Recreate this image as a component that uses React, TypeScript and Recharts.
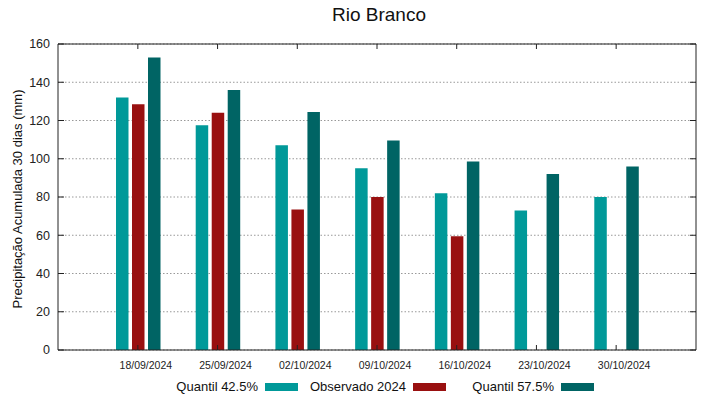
import React from 'react';
import { BarChart, Bar, XAxis, YAxis, CartesianGrid } from 'recharts';

// Precipitação acumulada 30 dias - Rio Branco
const dates = ['18/09/2024', '25/09/2024', '02/10/2024', '09/10/2024', '16/10/2024', '23/10/2024', '30/10/2024'];
const quantil425 = [132, 117.5, 107, 95, 82, 73, 80];
const observado2024 = [128.5, 124, 73.5, 80, 59.5, null, null];
const quantil575 = [153, 136, 124.5, 109.5, 98.5, 92, 96];
const yTicks = [0, 20, 40, 60, 80, 100, 120, 140, 160];

const SERIES = [
  { key: 'q425', name: 'Quantil 42.5%', color: '#009999' },
  { key: 'obs', name: 'Observado 2024', color: '#991010' },
  { key: 'q575', name: 'Quantil 57.5%', color: '#006464' },
];

const FONT = '"Liberation Sans", Arial, sans-serif';

const data = dates.map((date, i) => ({
  date,
  q425: quantil425[i],
  obs: observado2024[i],
  q575: quantil575[i],
}));

const DateTick = ({ x, y, payload }: any) => (
  <text x={x + 8} y={y} dy="0.71em" textAnchor="middle" fontSize={10.5} fill="#222" fontFamily={FONT}>
    {payload.value}
  </text>
);

const Empty = () => <g />;

export default function App() {
  return (
    <div style={{ position: 'absolute', left: 0, top: 0, width: 719, height: 399, background: '#fff', fontFamily: FONT }}>
      <div style={{ position: 'absolute', left: 0, width: 758, top: 4, textAlign: 'center', fontSize: 19, color: '#111' }}>
        Rio Branco
      </div>
      <div
        style={{
          position: 'absolute', left: 17, top: 199, width: 300, marginLeft: -150, textAlign: 'center',
          fontSize: 13, color: '#111', transform: 'translateY(-50%) rotate(-90deg)', whiteSpace: 'nowrap',
        }}
      >
        Precipitação Acumulada 30 dias (mm)
      </div>

      <BarChart
        width={719}
        height={399}
        data={data}
        margin={{ top: 43, right: 22, left: 0, bottom: 0 }}
        barSize={12.5}
        barGap={3.5}
      >
        <CartesianGrid horizontal vertical={false} stroke="#999" strokeDasharray="1.5 2" />
        <XAxis
          dataKey="date"
          height={49}
          padding={{ left: 40, right: 40 }}
          tickSize={-5}
          tickMargin={17}
          tick={DateTick}
          stroke="#222"
          interval={0}
        />
        <XAxis
          xAxisId="top"
          dataKey="date"
          orientation="top"
          height={1}
          padding={{ left: 40, right: 40 }}
          tickSize={-5}
          tick={Empty}
          stroke="#222"
          interval={0}
        />
        <YAxis
          width={58}
          domain={[0, 160]}
          ticks={yTicks}
          tickSize={-6}
          tickMargin={14}
          stroke="#222"
          tick={{ fontSize: 12.5, fill: '#222', fontFamily: FONT }}
        />
        <YAxis
          yAxisId="right"
          orientation="right"
          width={1}
          domain={[0, 160]}
          ticks={yTicks}
          allowDataOverflow
          tickSize={-6}
          tick={Empty}
          stroke="#222"
        />
        {SERIES.map((s) => (
          <Bar key={s.key} dataKey={s.key} name={s.name} fill={s.color} isAnimationActive={false} />
        ))}
      </BarChart>

      <div style={{ position: 'absolute', left: 150, top: 379, display: 'flex', fontSize: 13, color: '#111' }}>
        {SERIES.map((s) => (
          <div key={s.key} style={{ width: 148, display: 'flex', alignItems: 'center' }}>
            <span style={{ width: 108, textAlign: 'right', whiteSpace: 'nowrap' }}>{s.name}</span>
            <span style={{ marginLeft: 7, width: 33, height: 8, background: s.color, display: 'inline-block' }} />
          </div>
        ))}
      </div>
    </div>
  );
}
